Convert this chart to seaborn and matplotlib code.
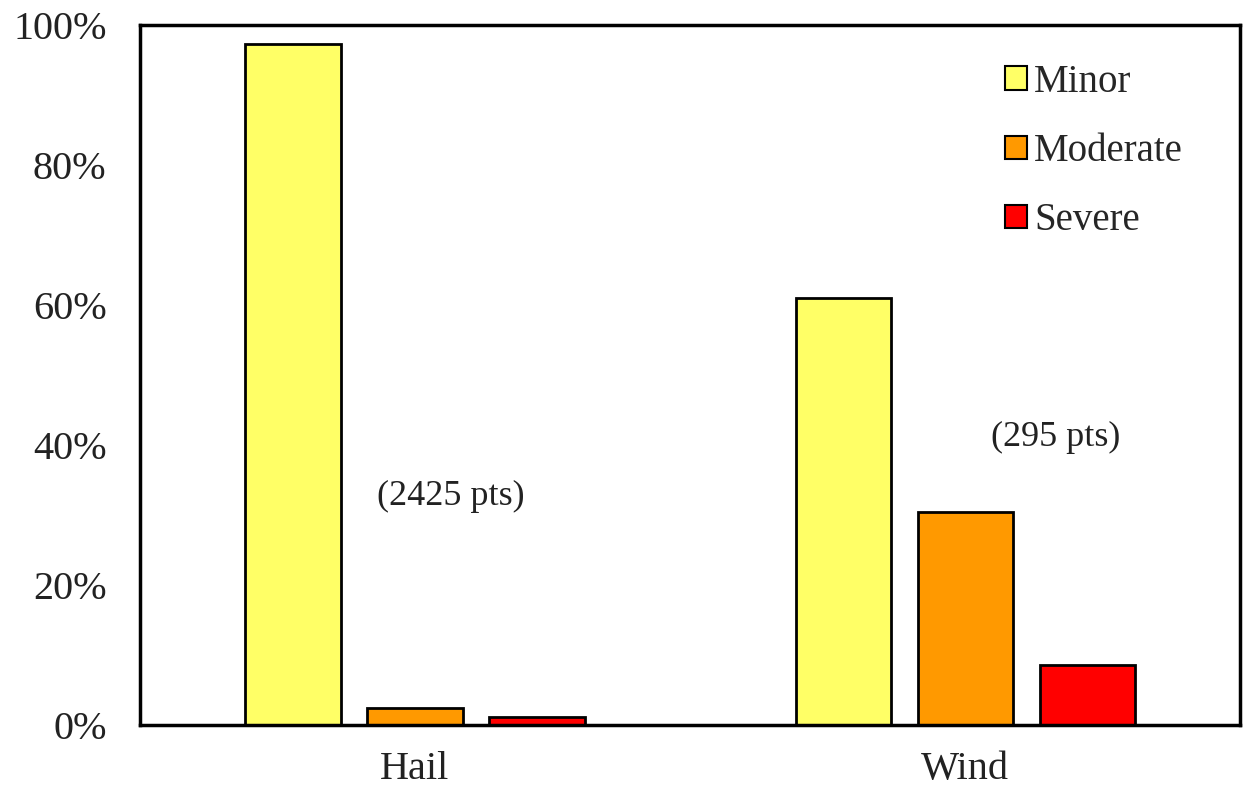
import pandas as pd
import matplotlib
matplotlib.use("Agg")
import matplotlib.pyplot as plt
import seaborn as sns
from matplotlib.ticker import FuncFormatter

sns.set_style("white")
plt.rcParams['font.family'] = ['Liberation Serif', 'DejaVu Serif']

hazards = ["Hail", "Wind"]
severity = ["Minor", "Moderate", "Severe"]
minor_pct = [97.3, 61.0]
moderate_pct = [2.4, 30.4]
severe_pct = [1.1, 8.6]
point_labels = ["(2425 pts)", "(295 pts)"]
colors = ["#FFFF66", "#FF9900", "#FF0000"]

rows = []
for i, hz in enumerate(hazards):
    for sev, vals in zip(severity, [minor_pct, moderate_pct, severe_pct]):
        rows.append({"Hazard": hz, "Severity": sev, "Pct": vals[i]})
df = pd.DataFrame(rows)

fig = plt.figure(figsize=(12.49, 7.89), dpi=100)
ax = fig.add_axes([0.112, 0.081, 0.881, 0.887])

sns.barplot(data=df, x="Hazard", y="Pct", hue="Severity", palette=colors,
            saturation=1, edgecolor="black", linewidth=2, width=0.665, gap=0.22, ax=ax)

ax.set_ylim(0, 100)
ax.set_xlim(-0.5, 1.5)
ax.set_yticks(range(0, 101, 20))
ax.yaxis.set_major_formatter(FuncFormatter(lambda v, p: f"{int(v)}%"))
ax.tick_params(axis="both", length=0, labelsize=29, colors="#222222")
ax.tick_params(axis="x", pad=19)
ax.tick_params(axis="y", pad=24)
ax.set_xlabel("")
ax.set_ylabel("")
for s in ax.spines.values():
    s.set_linewidth(2.5)
    s.set_color("black")

# sample counts
ax.text(0.065, 32.6, point_labels[0], ha="center", va="center", fontsize=26, color="#222222")
ax.text(1.165, 41.1, point_labels[1], ha="center", va="center", fontsize=26, color="#222222")

ax.legend(loc="upper right", bbox_to_anchor=(0.98, 0.995), frameon=False,
          fontsize=28, handlelength=0.55, handleheight=0.55, handletextpad=0.2,
          labelspacing=0.83)
for h in ax.get_legend().legend_handles:
    h.set_linewidth(1.5)

fig.savefig("out.png", dpi=100)
